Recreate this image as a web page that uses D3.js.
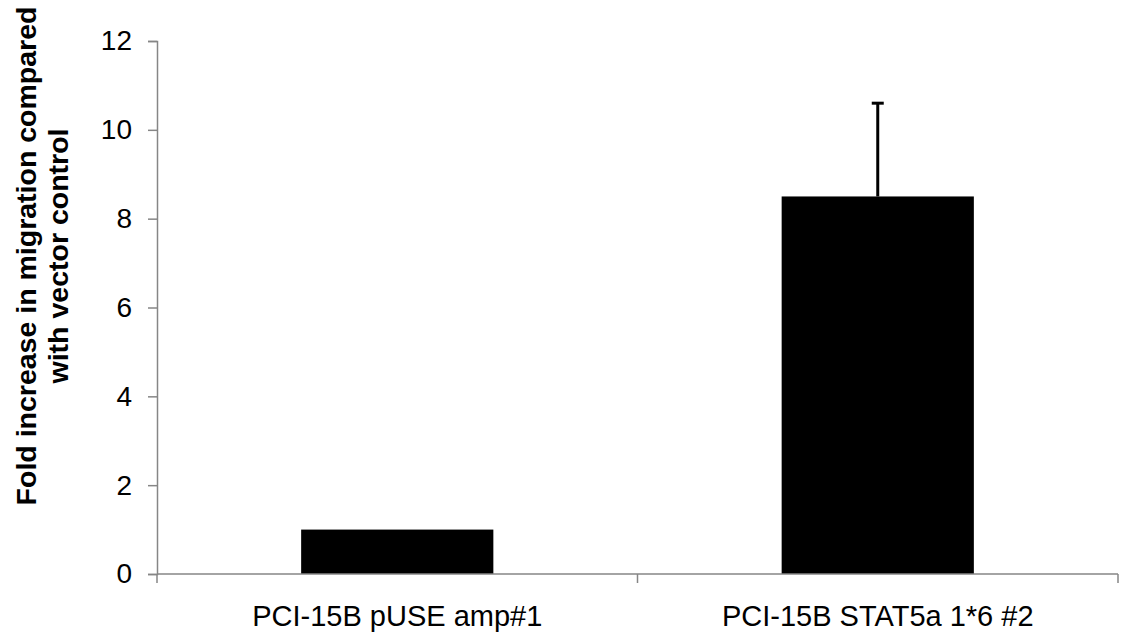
<html>
  <head>
    <style>
      body {
        margin: 0;
        background: #fff;
        font-family: "Liberation Sans", Arial, Helvetica, sans-serif;
      }
      svg {
        display: block;
      }
      .axis path,
      .axis line {
        stroke: #868686;
        stroke-width: 1.5px;
      }
      .axis text {
        fill: #000;
        font-family: "Liberation Sans", Arial, sans-serif;
      }
      .y-label {
        font-weight: bold;
        font-size: 28.5px;
        text-anchor: middle;
      }
    </style>
  </head>
  <body>
    <script src="https://d3js.org/d3.v7.min.js"></script>
    <script>
      const categories = ["PCI-15B pUSE amp#1", "PCI-15B STAT5a 1*6 #2"];
      const values = [1.0, 8.5];
      const errors = [0, 2.1];
      const yTicks = [0, 2, 4, 6, 8, 10, 12];

      const width = 1121,
        height = 637;
      const plotLeft = 157,
        plotRight = 1118,
        plotTop = 41,
        plotBottom = 574;

      const svg = d3
        .select("body")
        .append("svg")
        .attr("width", width)
        .attr("height", height);

      const x = d3
        .scaleBand()
        .domain(categories)
        .range([plotLeft, plotRight])
        .paddingInner(0.6)
        .paddingOuter(0.3);

      const y = d3.scaleLinear().domain([0, 12]).range([plotBottom, plotTop]);

      // bars
      svg
        .append("g")
        .selectAll("rect")
        .data(categories)
        .join("rect")
        .attr("x", (d) => x(d))
        .attr("y", (d, i) => y(values[i]))
        .attr("width", x.bandwidth())
        .attr("height", (d, i) => y(0) - y(values[i]))
        .attr("fill", "#000");

      // error bars (upper only)
      const err = svg.append("g").attr("stroke", "#000").attr("stroke-width", 3);
      categories.forEach((c, i) => {
        if (!errors[i]) return;
        const cx = x(c) + x.bandwidth() / 2;
        err
          .append("line")
          .attr("x1", cx)
          .attr("x2", cx)
          .attr("y1", y(values[i]))
          .attr("y2", y(values[i] + errors[i]));
        err
          .append("line")
          .attr("x1", cx - 6)
          .attr("x2", cx + 6)
          .attr("y1", y(values[i] + errors[i]))
          .attr("y2", y(values[i] + errors[i]));
      });

      // y axis
      const yAxis = svg
        .append("g")
        .attr("class", "axis")
        .attr("transform", `translate(${plotLeft},0)`)
        .call(
          d3.axisLeft(y).tickValues(yTicks).tickSize(9).tickSizeOuter(9).tickPadding(16)
        );
      yAxis.selectAll("text").attr("font-size", 28);

      // x axis: ticks at category boundaries
      const xAxis = svg.append("g").attr("class", "axis");
      xAxis
        .append("line")
        .attr("x1", plotLeft)
        .attr("x2", plotRight)
        .attr("y1", plotBottom)
        .attr("y2", plotBottom);
      const bounds = [plotLeft, (plotLeft + plotRight) / 2, plotRight];
      bounds.forEach((bx) => {
        xAxis
          .append("line")
          .attr("x1", bx)
          .attr("x2", bx)
          .attr("y1", plotBottom)
          .attr("y2", plotBottom + 9);
      });
      xAxis
        .selectAll("text")
        .data(categories)
        .join("text")
        .attr("x", (d) => x(d) + x.bandwidth() / 2)
        .attr("y", 626)
        .attr("text-anchor", "middle")
        .attr("font-size", 29)
        .text((d) => d);

      // y label
      const yl = svg
        .append("text")
        .attr("class", "y-label")
        .attr("transform", "translate(0,256) rotate(-90)");
      yl.append("tspan").attr("x", 0).attr("y", 36).text("Fold increase in migration compared");
      yl.append("tspan").attr("x", 0).attr("y", 68).text("with vector control");
    </script>
  </body>
</html>
